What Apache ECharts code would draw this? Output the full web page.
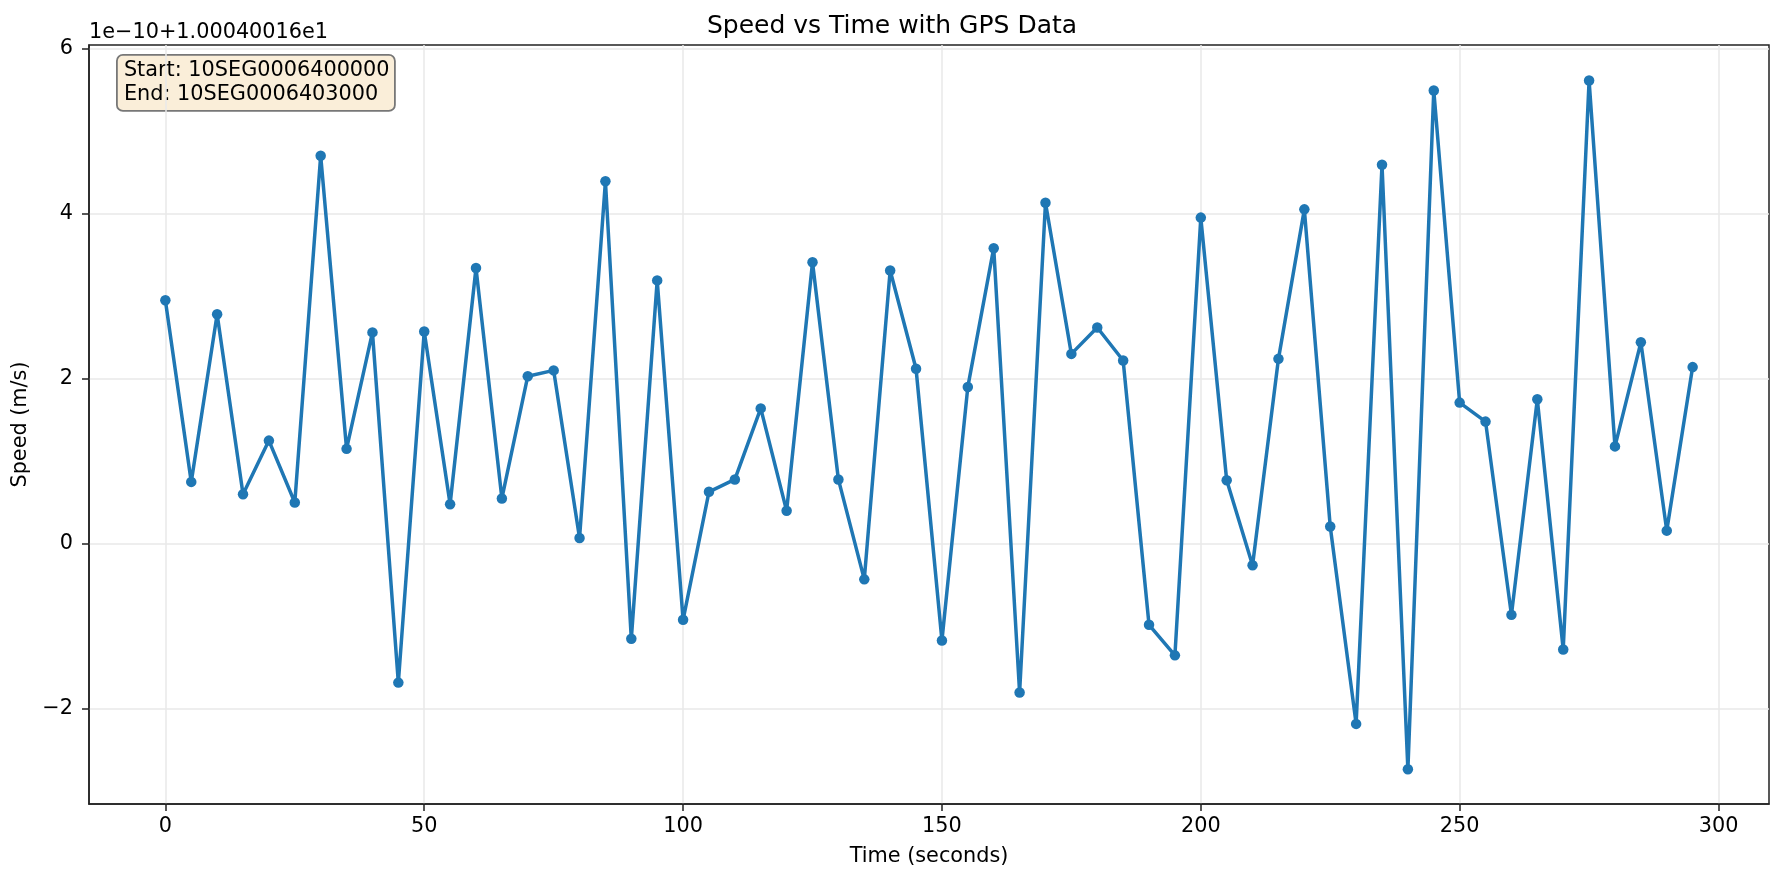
<!DOCTYPE html>
<html>
<head>
<meta charset="utf-8">
<script src="https://cdn.jsdelivr.net/npm/echarts@6/dist/echarts.min.js"></script>
<style>
  html, body { margin: 0; padding: 0; background: #fff; }
  #main { width: 1784px; height: 882px; }
</style>
</head>
<body>
<div id="main"></div>
<script>
// time in seconds
var times = [0, 5, 10, 15, 20, 25, 30, 35, 40, 45, 50, 55, 60, 65, 70, 75, 80, 85, 90, 95,
  100, 105, 110, 115, 120, 125, 130, 135, 140, 145, 150, 155, 160, 165, 170, 175, 180, 185, 190, 195,
  200, 205, 210, 215, 220, 225, 230, 235, 240, 245, 250, 255, 260, 265, 270, 275, 280, 285, 290, 295];
// speed, shown as offset in units of 1e-10 from 1.00040016e1
var speeds = [2.95, 0.75, 2.78, 0.60, 1.25, 0.50, 4.70, 1.15, 2.56, -1.68,
  2.57, 0.48, 3.34, 0.55, 2.03, 2.10, 0.07, 4.39, -1.15, 3.19,
  -0.92, 0.63, 0.78, 1.64, 0.40, 3.41, 0.78, -0.43, 3.31, 2.12,
  -1.17, 1.90, 3.58, -1.80, 4.13, 2.30, 2.62, 2.22, -0.98, -1.35,
  3.95, 0.77, -0.26, 2.24, 4.05, 0.21, -2.18, 4.59, -2.73, 5.49,
  1.71, 1.48, -0.86, 1.75, -1.28, 5.61, 1.18, 2.44, 0.16, 2.14];
var xTicks = [0, 50, 100, 150, 200, 250, 300];
var yTicks = [-2, 0, 2, 4, 6];

var font = 'DejaVu Sans';
var chart = echarts.init(document.getElementById('main'));

var option = {
    animation: false,
    title: {
        text: 'Speed vs Time with GPS Data',
        left: 'center',
        top: 9,
        textStyle: { fontFamily: font, fontSize: 25, fontWeight: 'normal', color: '#000' }
    },
    grid: {
        left: 89, top: 45, width: 1680, height: 759,
        show: true, borderColor: '#222', borderWidth: 1.5, backgroundColor: '#fff'
    },
    xAxis: {
        type: 'value',
        min: -14.75,
        max: 309.75,
        name: 'Time (seconds)',
        nameLocation: 'middle',
        nameGap: 42,
        nameTextStyle: { fontFamily: font, fontSize: 20.8, color: '#000' },
        axisLine: { show: true, onZero: false, lineStyle: { color: '#222', width: 1.5 } },
        axisTick: { show: true, length: 7, customValues: xTicks, lineStyle: { color: '#222', width: 1.5 } },
        axisLabel: { customValues: xTicks, fontFamily: font, fontSize: 20.8, color: '#000', margin: 12 },
        splitLine: { show: true, lineStyle: { color: '#e8e8e8', width: 1.5 } }
    },
    yAxis: {
        type: 'value',
        min: -3.15,
        max: 6.04,
        name: 'Speed (m/s)',
        nameLocation: 'middle',
        nameGap: 51,
        nameTextStyle: { fontFamily: font, fontSize: 20.8, color: '#000' },
        axisLine: { show: true, onZero: false, lineStyle: { color: '#222', width: 1.5 } },
        axisTick: { show: true, length: 7, customValues: yTicks, lineStyle: { color: '#222', width: 1.5 } },
        axisLabel: {
            customValues: yTicks, fontFamily: font, fontSize: 20.8, color: '#000', margin: 16,
            formatter: function (v) { return v < 0 ? '\u2212' + Math.abs(v) : String(v); }
        },
        splitLine: { show: true, lineStyle: { color: '#e8e8e8', width: 1.5 } }
    },
    graphic: [
        {
            type: 'text',
            left: 89, top: 22,
            style: { text: '1e\u221210+1.00040016e1', font: '20.8px DejaVu Sans', fill: '#000' }
        },
        {
            type: 'group',
            left: 116, top: 54,
            children: [
                {
                    type: 'rect',
                    shape: { x: 0, y: 0, width: 278, height: 56, r: 6 },
                    style: { fill: 'rgba(245,222,179,0.5)', stroke: '#777', lineWidth: 1.8 }
                },
                {
                    type: 'text',
                    left: 7, top: 4,
                    style: {
                        text: 'Start: 10SEG0006400000\nEnd: 10SEG0006403000',
                        font: '20.8px DejaVu Sans', fill: '#000', lineHeight: 24
                    }
                }
            ]
        }
    ],
    series: [
        {
            type: 'line',
            data: times.map(function (t, i) { return [t, speeds[i]]; }),
            symbol: 'circle',
            symbolSize: 10.5,
            showAllSymbol: true,
            lineStyle: { color: '#1f77b4', width: 3.5 },
            itemStyle: { color: '#1f77b4' }
        }
    ]
};

chart.setOption(option);
</script>
</body>
</html>
